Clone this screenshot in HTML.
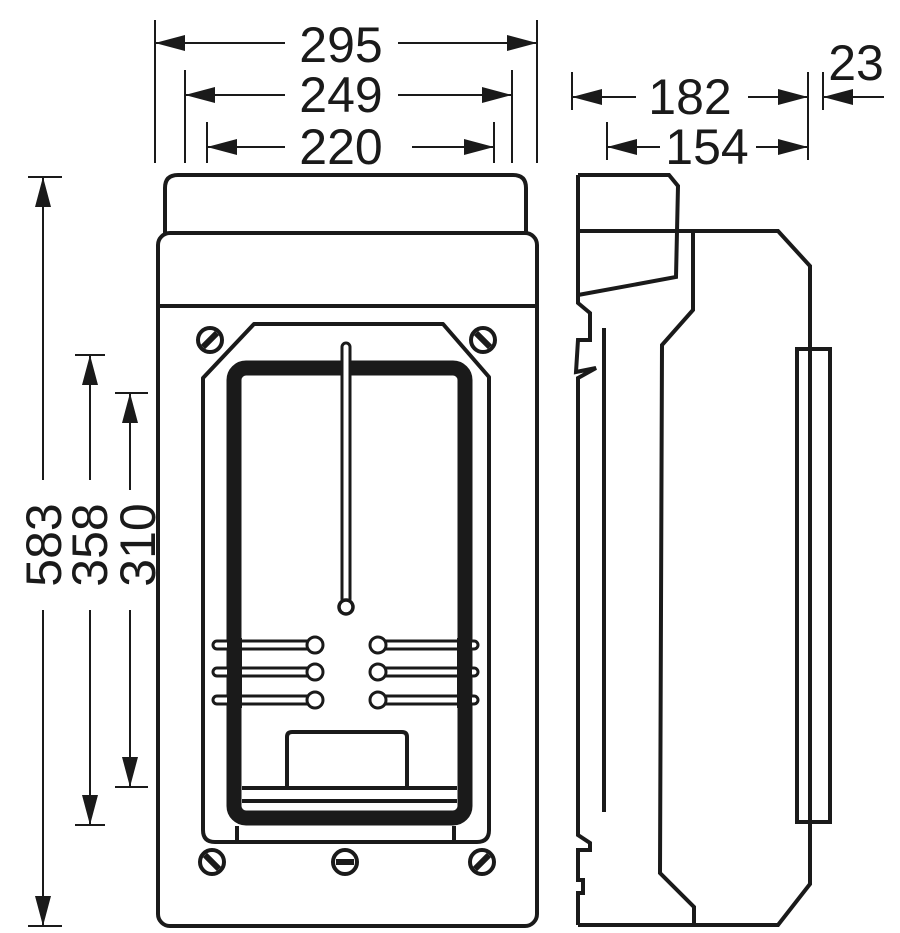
<!DOCTYPE html>
<html><head><style>body{margin:0;background:#fff}svg{display:block}</style></head><body>
<svg width="900" height="933" viewBox="0 0 900 933" xmlns="http://www.w3.org/2000/svg" font-family="Liberation Sans, sans-serif">
<defs>
<marker id="a" viewBox="0 0 30 16" refX="30" refY="8" markerWidth="30" markerHeight="16" markerUnits="userSpaceOnUse" orient="auto-start-reverse"><path d="M0,0 L30,8 L0,16 Z" fill="#1a1a1a"/></marker>
</defs>
<g stroke="#1a1a1a" stroke-width="2" fill="none">
<!-- top extension lines -->
<line x1="155" y1="20" x2="155" y2="163"/><line x1="537" y1="20" x2="537" y2="163"/>
<line x1="185" y1="70" x2="185" y2="163"/><line x1="512" y1="70" x2="512" y2="163"/>
<line x1="207" y1="122" x2="207" y2="163"/><line x1="494" y1="122" x2="494" y2="163"/>
<line x1="572" y1="72" x2="572" y2="110"/><line x1="808" y1="72" x2="808" y2="160"/>
<line x1="823" y1="72" x2="823" y2="110"/><line x1="607" y1="122" x2="607" y2="160"/>
<!-- left extension -->
<line x1="28" y1="177" x2="62" y2="177"/><line x1="28" y1="926" x2="62" y2="926"/>
<line x1="75" y1="355" x2="105" y2="355"/><line x1="75" y1="825" x2="105" y2="825"/>
<line x1="115" y1="393" x2="148" y2="393"/><line x1="115" y1="787" x2="148" y2="787"/>
<!-- dimension lines -->
<line x1="155" y1="43" x2="285" y2="43" marker-start="url(#a)"/><line x1="398" y1="43" x2="537" y2="43" marker-end="url(#a)"/>
<line x1="185" y1="95" x2="285" y2="95" marker-start="url(#a)"/><line x1="398" y1="95" x2="512" y2="95" marker-end="url(#a)"/>
<line x1="207" y1="147" x2="285" y2="147" marker-start="url(#a)"/><line x1="412" y1="147" x2="494" y2="147" marker-end="url(#a)"/>
<line x1="572" y1="97" x2="636" y2="97" marker-start="url(#a)"/><line x1="748" y1="97" x2="808" y2="97" marker-end="url(#a)"/>
<line x1="884" y1="97" x2="823" y2="97" marker-end="url(#a)"/>
<line x1="607" y1="147" x2="660" y2="147" marker-start="url(#a)"/><line x1="756" y1="147" x2="808" y2="147" marker-end="url(#a)"/>
<line x1="43" y1="177" x2="43" y2="480" marker-start="url(#a)"/><line x1="43" y1="610" x2="43" y2="926" marker-end="url(#a)"/>
<line x1="90" y1="355" x2="90" y2="480" marker-start="url(#a)"/><line x1="90" y1="610" x2="90" y2="825" marker-end="url(#a)"/>
<line x1="130" y1="393" x2="130" y2="490" marker-start="url(#a)"/><line x1="130" y1="610" x2="130" y2="787" marker-end="url(#a)"/>
</g>
<g fill="#1a1a1a" font-size="50">
<text x="341" y="62" text-anchor="middle">295</text>
<text x="341" y="112" text-anchor="middle">249</text>
<text x="341" y="164" text-anchor="middle">220</text>
<text x="690" y="114" text-anchor="middle">182</text>
<text x="856" y="80" text-anchor="middle">23</text>
<text x="707" y="164" text-anchor="middle">154</text>
<text transform="translate(61,545) rotate(-90)" text-anchor="middle">583</text>
<text transform="translate(107,545) rotate(-90)" text-anchor="middle">358</text>
<text transform="translate(155,545) rotate(-90)" text-anchor="middle">310</text>
</g>
<!-- front view -->
<g stroke="#1a1a1a" stroke-width="4" fill="none" stroke-linejoin="round">
<path d="M165,233 V188 Q165,175 178,175 H513 Q526,175 526,188 V233"/>
<rect x="158" y="233" width="379" height="693" rx="12"/>
<line x1="158" y1="306" x2="537" y2="306"/>
<path d="M254,324 H443 L489,377 V830 Q489,842 477,842 H215 Q203,842 203,830 V378 Z"/>
<line x1="237" y1="826" x2="237" y2="842"/><line x1="454" y1="826" x2="454" y2="842"/>
<rect x="234" y="368" width="231" height="450" rx="12" stroke-width="15"/>
<line x1="242" y1="788" x2="457" y2="788"/><line x1="242" y1="801" x2="457" y2="801"/>
<path d="M287,788 V737 Q287,732 292,732 H402 Q407,732 407,737 V788"/>
</g>
<!-- rod -->
<rect x="342" y="343" width="8" height="260" rx="4" fill="#fff" stroke="#1a1a1a" stroke-width="3"/>
<circle cx="346" cy="607" r="7" fill="#fff" stroke="#1a1a1a" stroke-width="3.5"/>
<!-- terminals -->
<g stroke="#1a1a1a" stroke-width="3" fill="#fff">
<rect x="213" y="641" width="100" height="8" rx="4"/><rect x="213" y="668" width="100" height="8" rx="4"/><rect x="213" y="696" width="100" height="8" rx="4"/>
<rect x="380" y="641" width="98" height="8" rx="4"/><rect x="380" y="668" width="98" height="8" rx="4"/><rect x="380" y="696" width="98" height="8" rx="4"/>
<circle cx="315" cy="645" r="8"/><circle cx="315" cy="672" r="8"/><circle cx="315" cy="700" r="8"/>
<circle cx="378" cy="645" r="8"/><circle cx="378" cy="672" r="8"/><circle cx="378" cy="700" r="8"/>
</g>
<rect x="227" y="638" width="15" height="70" fill="#1a1a1a"/><rect x="457" y="638" width="15" height="70" fill="#1a1a1a"/>
<!-- screws -->
<g stroke="#1a1a1a" fill="#fff">
<g transform="translate(210,340)"><circle r="12" stroke-width="4"/><line x1="-7" y1="7" x2="7" y2="-7" stroke-width="6"/></g>
<g transform="translate(483,340)"><circle r="12" stroke-width="4"/><line x1="-7" y1="-7" x2="7" y2="7" stroke-width="6"/></g>
<g transform="translate(212,862)"><circle r="12" stroke-width="4"/><line x1="-7" y1="-7" x2="7" y2="7" stroke-width="6"/></g>
<g transform="translate(345,862)"><circle r="12" stroke-width="4"/><line x1="-9" y1="0" x2="9" y2="0" stroke-width="6"/></g>
<g transform="translate(482,862)"><circle r="12" stroke-width="4"/><line x1="-7" y1="7" x2="7" y2="-7" stroke-width="6"/></g>
</g>
<!-- side view -->
<g stroke="#1a1a1a" stroke-width="4" fill="none" stroke-linejoin="miter">
<path d="M578,175 H669 L678,186 L676,277 L578,295"/>
<path d="M578,231 H778 L810,266 V884 L778,925 H578"/>
<path d="M693,231 V310 L662,345 L660,873 L694,907 V925"/>
<path d="M578,175 V303 L590,313 V340 L578,340 L576,372 L596,368 L578,378 V835 L590,843 V850 H578 V880 H583 V893 H578 V925"/>
<line x1="604" y1="328" x2="604" y2="812"/>
<rect x="797" y="349" width="33" height="473"/>
</g>
</svg>
</body></html>
